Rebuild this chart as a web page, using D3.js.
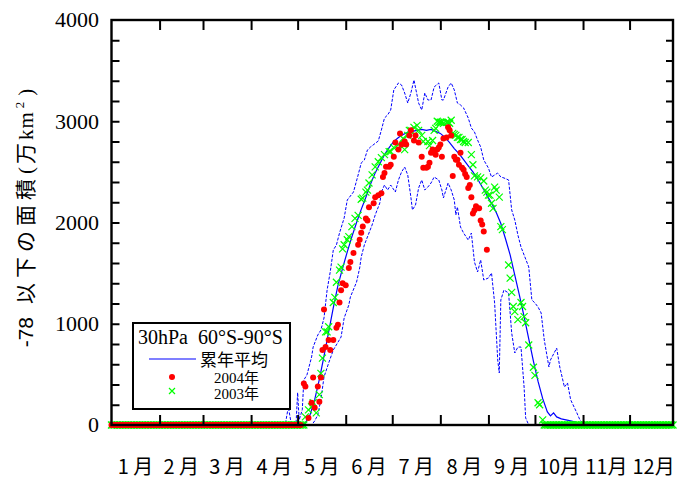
<!DOCTYPE html>
<html>
<head>
<meta charset="utf-8">
<script src="https://cdn.jsdelivr.net/npm/d3@7"></script>
<style>
  body { margin: 0; background: #fff; }
</style>
</head>
<body>
<div id="chart"></div>
<script>
(function () {

  // ---- data ----
  var months = ["1 月", "2 月", "3 月", "4 月", "5 月", "6 月", "7 月", "8 月", "9 月", "10月", "11月", "12月"]
  var monthLen = [31, 28, 31, 30, 31, 30, 31, 31, 30, 31, 30, 31]
  var yTicks = [0, 1000, 2000, 3000, 4000]

  // 累年平均 (solid)
  var meanDays = [0,122,125,128,131,134,137,140,143,146,149,152,155,158,161,164,167,170,173,176,179,182,185,188,191,194,197,200,203,206,209,212,215,218,221,224,227,230,233,236,239,242,245,248,251,254,257,260,263,266,269,272,275,278,281,283,285,287,290,293,296,299,301,362]
  var meanVals = [0,0,20,100,250,450,680,920,1160,1380,1550,1710,1860,2000,2130,2250,2380,2490,2580,2670,2740,2800,2840,2870,2890,2900,2910,2920,2910,2920,2900,2880,2840,2790,2730,2680,2620,2560,2500,2430,2350,2270,2190,2100,1990,1840,1680,1480,1280,1070,850,630,430,260,130,90,120,80,60,50,40,30,0,0]

  // max / min (dashed)
  var maxDays = [0,112,114,116,119,120,121,123,124,126,129,130,133,135,137,139,141,143,145,147,150,152,156,159,161,163,165,167,172,174,176,178,180,182,185,187,189,191,193,195,198,200,202,204,206,208,211,213,214,217,219,221,223,225,227,230,232,234,236,238,240,243,245,247,249,251,253,256,258,260,262,264,266,269,271,273,275,277,279,282,283,287,289,292,294,296,300,302,305,362]
  var maxVals = [0,0,180,0,20,320,50,150,445,494,672,770,889,938,1057,1333,1511,1728,1778,1896,2045,2222,2301,2469,2588,2617,2716,2746,2805,2914,3032,3062,3111,3309,3378,3358,3279,3180,3279,3407,3180,3111,3279,3210,3210,3338,3378,3210,3210,3338,3378,3309,3180,3161,3131,3032,2933,2894,2815,2746,2617,2538,2449,2469,2489,2449,2440,2420,2124,2025,1877,1758,1679,1561,1235,1205,1165,1106,840,573,642,760,573,375,415,250,120,50,0,0]
  var minDays = [0,125,129,131,133,135,137,140,143,148,150,153,154,158,160,161,163,165,168,170,173,174,176,178,180,183,185,187,189,191,193,194,196,198,200,202,204,206,208,211,213,214,217,219,221,222,223,225,227,230,232,234,236,238,240,243,245,247,249,250,251,253,256,258,260,262,264,266,267,269,362]
  var minVals = [0,0,0,40,100,250,474,612,741,869,1057,1185,1264,1412,1551,1659,1778,1857,1975,2074,2193,2301,2370,2321,2370,2301,2420,2499,2548,2469,2252,2124,2173,2341,2420,2321,2351,2390,2449,2420,2321,2242,2390,2321,2222,2074,2153,1956,1896,1827,1896,1610,1511,1630,1432,1452,1501,1205,642,514,1235,1333,1304,909,711,770,770,375,70,0,0]

  // 2004年 (red dots)
  var zero2004 = [0, 122]
  var days2004 = [124,125,127,129,130,131,133,134,135,136,137,138,140,141,143,145,146,147,148,149,151,153,154,156,159,160,161,162,164,165,166,169,170,172,174,175,176,177,179,180,182,183,185,186,187,189,190,192,193,195,196,198,200,201,203,204,205,206,207,208,209,210,211,212,213,214,216,217,218,219,220,221,222,223,224,225,226,227,228,229,230,231,232,233,234,235,237,238,239,240,242]
  var vals2004 = [410,380,70,220,470,170,380,230,470,740,1140,770,840,740,840,960,990,1210,1330,1400,1380,1550,1610,1700,1780,1830,1900,1960,2040,2020,2150,2190,2250,2270,2290,2450,2490,2550,2550,2570,2650,2790,2720,2880,2770,2800,2770,2860,2910,2810,2860,2790,2650,2540,2540,2550,2590,2690,2720,2690,2670,2720,2740,2770,2650,2830,2840,2940,2910,2860,2460,2650,2620,2620,2570,2690,2540,2520,2480,2450,2340,2370,2250,2090,2120,2160,2140,2020,1980,1910,1730]

  // 2003年 (green crosses)
  var zero2003a = [0, 124]
  var zero2003b = [279, 362]
  var days2003 = [125,127,129,130,132,134,135,136,138,139,140,143,144,145,147,148,149,150,152,153,155,157,159,161,162,164,165,166,168,170,172,174,176,179,180,182,185,188,189,191,192,193,195,197,198,200,201,204,205,207,208,209,210,211,212,213,214,216,217,218,219,220,221,222,223,224,225,226,227,228,230,232,233,234,236,238,240,241,242,243,244,245,246,247,248,250,251,252,256,257,258,259,260,262,264,265,266,267,269,272,273,275,276,278]
  var vals2003 = [80,150,180,220,120,300,510,660,920,920,970,1210,1260,1410,1530,1560,1740,1780,1830,1860,1960,2040,2070,2230,2240,2300,2320,2390,2470,2550,2600,2640,2670,2700,2700,2740,2770,2830,2720,2860,2910,2910,2940,2960,2910,2860,2800,2800,2760,2810,2910,2930,3000,2990,2990,2990,2980,2990,2990,2980,3010,2880,2870,2860,2840,2840,2820,2820,2800,2790,2790,2670,2570,2460,2450,2440,2410,2320,2300,2270,2270,2190,2140,2350,2320,2250,1960,1930,1580,1450,1310,1170,1120,1040,1210,1170,1070,1010,790,570,490,220,200,50]

  // ---- setup ----
  var width = 677, height = 479
  var left = 111.5, right = 673, top = 20, bottom = 425

  var svg = d3.select("#chart").append("svg")
      .attr("width", width)
      .attr("height", height)
      .style("background", "#fff")

  var x = d3.scaleLinear().domain([0, 362]).range([left, right])
  var y = d3.scaleLinear().domain([0, 4000]).range([bottom, top])

  function zeroRun(r) {
    return d3.range(r[0], r[1] + 1).map(function(d) { return [d, 0] })
  }

  var line = d3.line()
      .x(function(d) { return x(d[0]) })
      .y(function(d) { return y(d[1]) })

  // month boundaries (cumulative days)
  var bounds = d3.cumsum(monthLen).slice(0, 11)
  var mids = monthLen.map(function(n, i) { return (i === 0 ? 0 : bounds[i - 1]) + n / 2 })

  // ---- lines ----
  svg.append("path")
    .datum(d3.zip(maxDays, maxVals))
    .attr("d", line)
    .attr("fill", "none")
    .attr("stroke", "#0000ff")
    .attr("stroke-width", 1)
    .attr("stroke-dasharray", "3,1.5")

  svg.append("path")
    .datum(d3.zip(minDays, minVals))
    .attr("d", line)
    .attr("fill", "none")
    .attr("stroke", "#0000ff")
    .attr("stroke-width", 1)
    .attr("stroke-dasharray", "3,1.5")

  svg.append("path")
    .datum(d3.zip(meanDays, meanVals))
    .attr("d", line)
    .attr("fill", "none")
    .attr("stroke", "#0000ff")
    .attr("stroke-width", 1.2)

  // ---- 2003 crosses ----
  var pts2003 = zeroRun(zero2003a).concat(d3.zip(days2003, vals2003)).concat(zeroRun(zero2003b))
  svg.selectAll(".x2003")
    .data(pts2003)
    .enter().append("path")
    .attr("class", "x2003")
    .attr("transform", function(d) { return "translate(" + x(d[0]) + "," + y(d[1]) + ")" })
    .attr("d", "M-3.5,-3.5L3.5,3.5M-3.5,3.5L3.5,-3.5")
    .attr("stroke", "#00ff00")
    .attr("stroke-width", 1.2)
    .attr("fill", "none")

  // ---- 2004 dots ----
  var pts2004 = zeroRun(zero2004).concat(d3.zip(days2004, vals2004))
  svg.selectAll(".d2004")
    .data(pts2004)
    .enter().append("circle")
    .attr("class", "d2004")
    .attr("cx", function(d) { return x(d[0]) })
    .attr("cy", function(d) { return y(d[1]) })
    .attr("r", 3)
    .attr("fill", "#ff0000")

  // ---- frame + ticks ----
  svg.append("rect")
    .attr("x", left).attr("y", top)
    .attr("width", right - left).attr("height", bottom - top)
    .attr("fill", "none")
    .attr("stroke", "#000")
    .attr("stroke-width", 2.4)

  var minor = d3.range(200, 4000, 200)

  var axes = [
    svg.append("g").attr("transform", "translate(" + left + ",0)")
      .call(d3.axisLeft(y).tickValues(minor).tickSize(-8).tickFormat("")),
    svg.append("g").attr("transform", "translate(" + right + ",0)")
      .call(d3.axisRight(y).tickValues(minor).tickSize(-7).tickFormat("")),
    svg.append("g").attr("transform", "translate(0," + bottom + ")")
      .call(d3.axisBottom(x).tickValues(bounds).tickSize(-10).tickFormat("")),
    svg.append("g").attr("transform", "translate(0," + top + ")")
      .call(d3.axisTop(x).tickValues(bounds).tickSize(-10).tickFormat(""))
  ]
  axes.forEach(function(g) {
    g.select(".domain").remove()
    g.selectAll("line").attr("stroke", "#000").attr("stroke-width", 2)
  })

  // y labels
  svg.selectAll(".ylab")
    .data(yTicks)
    .enter().append("text")
    .attr("class", "ylab")
    .attr("x", 99)
    .attr("y", function(d) { return y(d) })
    .attr("dy", "0.34em")
    .attr("text-anchor", "end")
    .style("font-family", "'Liberation Serif', serif")
    .style("font-size", "22px")
    .text(function(d) { return d })

  // month labels
  svg.selectAll(".mlab")
    .data(months)
    .enter().append("text")
    .attr("class", "mlab")
    .attr("x", function(d, i) { return x(mids[i]) })
    .attr("y", 474)
    .attr("text-anchor", "middle")
    .style("font-family", "'Noto Sans CJK JP', sans-serif")
    .style("font-size", "20px")
    .text(function(d) { return d })

  // y title
  var yt = svg.append("text")
    .attr("transform", "translate(33,218) rotate(-90)")
    .attr("text-anchor", "middle")
    .style("font-family", "'Noto Sans CJK JP', sans-serif")
    .style("font-size", "21px")
  yt.append("tspan").style("font-family", "'Liberation Sans', sans-serif").text("-78")
  yt.append("tspan").attr("dx", 13).style("letter-spacing", "5px").text("以下の面積")
  yt.append("tspan").style("font-family", "'Liberation Serif', serif").style("letter-spacing", "3px").text("(")
  yt.append("tspan").style("letter-spacing", "3px").text("万")
  yt.append("tspan").style("font-family", "'Liberation Serif', serif").style("letter-spacing", "1px").text("km")
  yt.append("tspan").style("font-family", "'Liberation Serif', serif").style("font-size", "13px")
    .attr("dx", 3).attr("dy", -9).text("2")
  yt.append("tspan").style("font-family", "'Liberation Serif', serif")
    .attr("dx", 6).attr("dy", 9).text(")")

  // ---- legend ----
  var lg = svg.append("g")
  lg.append("rect")
    .attr("x", 133).attr("y", 323)
    .attr("width", 157).attr("height", 86)
    .attr("fill", "#fff")
    .attr("stroke", "#000")
    .attr("stroke-width", 2)
  lg.append("text")
    .attr("x", 138).attr("y", 344)
    .style("font-family", "'Liberation Serif', serif")
    .style("font-size", "20px")
    .attr("xml:space", "preserve")
    .text("30hPa  60°S-90°S")
  lg.append("line")
    .attr("x1", 149).attr("x2", 196).attr("y1", 359).attr("y2", 359)
    .attr("stroke", "#0000ff").attr("stroke-width", 1.2)
  lg.append("text")
    .attr("x", 200).attr("y", 366)
    .style("font-family", "'Noto Sans CJK JP', sans-serif")
    .style("font-size", "17px")
    .text("累年平均")
  lg.append("circle")
    .attr("cx", 172).attr("cy", 377).attr("r", 3).attr("fill", "#ff0000")
  lg.append("text")
    .attr("x", 214).attr("y", 383)
    .style("font-family", "'Liberation Serif', 'Noto Sans CJK JP', serif")
    .style("font-size", "15px")
    .text("2004年")
  lg.append("path")
    .attr("transform", "translate(172,391)")
    .attr("d", "M-3,-3L3,3M-3,3L3,-3")
    .attr("stroke", "#00ff00").attr("stroke-width", 1.2)
  lg.append("text")
    .attr("x", 214).attr("y", 399)
    .style("font-family", "'Liberation Serif', 'Noto Sans CJK JP', serif")
    .style("font-size", "15px")
    .text("2003年")

})()
</script>
</body>
</html>
